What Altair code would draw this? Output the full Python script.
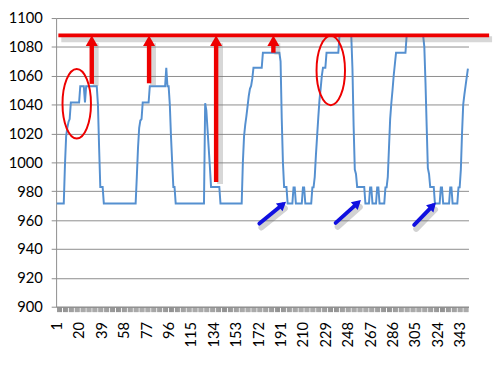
import altair as alt
import pandas as pd

# ---- blue series: (category index, value) vertices ----
pt_index = [1, 7, 8, 9, 10, 11, 12, 13, 20, 21, 24, 25, 26, 35, 36, 37, 38, 40, 41,
            68, 69, 70, 71, 72, 73, 74, 79, 80, 93, 94, 95, 96, 97, 98, 99, 100, 101, 102,
            126, 127, 128, 129, 130, 131, 132, 139, 140,
            158, 159, 160, 161, 162, 163, 164, 165, 166, 167, 168, 175, 176, 190, 191, 192, 193, 194, 196, 197,
            201, 202, 203, 204, 209, 210, 211, 212, 217, 218, 219, 220, 221, 222, 223, 224, 225, 226, 227, 229, 230,
            240, 241, 251, 252, 253, 254, 255, 256, 262, 263, 266, 267, 268, 269, 272, 273, 274, 275,
            279, 280, 281, 282, 283, 284, 285, 286, 287, 288, 289, 297, 298, 312, 313, 314, 315, 316, 317, 318,
            321, 322, 326, 327, 328, 329, 334, 335, 336, 337, 341, 342, 343, 344, 345, 346, 347, 348, 349, 350]
pt_value = [971.5, 971.5, 998, 1018, 1024, 1028, 1030, 1041.5, 1041.5, 1052.7, 1052.7, 1041.5, 1052.7, 1052.7, 1040, 1010, 983, 983, 971.5,
            971.5, 990, 1010, 1024, 1029, 1030, 1041.5, 1041.5, 1052.7, 1052.7, 1065.6, 1052.7, 1052.7, 1040, 1018, 1000, 983, 983, 971.5,
            971.5, 1041, 1036, 1023, 1010, 997, 983, 983, 971.5,
            971.5, 1000, 1018, 1026, 1032, 1039, 1046, 1051, 1053, 1058, 1065.6, 1065.6, 1076, 1076, 1070, 1030, 1000, 983, 983, 971.5,
            971.5, 982.7, 982.7, 971.5, 971.5, 982.7, 982.7, 971.5, 971.5, 982.7, 982.7, 990, 1005, 1018, 1031, 1043, 1051, 1060, 1065.6, 1065.6, 1076,
            1076, 1088, 1088, 1065, 1025, 995, 992, 983, 983, 971.5, 971.5, 982.7, 982.7, 971.5, 971.5, 982.7, 982.7, 971.5,
            971.5, 982.7, 982.7, 990, 1010, 1030, 1041, 1050, 1060, 1068, 1076, 1076, 1088, 1088, 1080, 1055, 1025, 996, 992, 983,
            983, 971.5, 971.5, 982.7, 982.7, 971.5, 971.5, 982.7, 982.7, 971.5, 971.5, 982.7, 982.7, 995, 1020, 1040, 1047, 1053, 1059, 1065]

n_categories = 350
x_labels = [1, 20, 39, 58, 77, 96, 115, 134, 153, 172, 191, 210, 229, 248, 267, 286, 305, 324, 343]
y_ticks = [900, 920, 940, 960, 980, 1000, 1020, 1040, 1060, 1080, 1100]

# ---- annotations ----
max_level = [1088]
max_from = [2.4]
max_to = [368]

red_arrow_x = [30.75, 79.4, 136.3, 184.9]
red_arrow_from = [1054.4, 1054.8, 986.4, 1076]

ellipse_x = [18, 233.6]
ellipse_y = [1040.6, 1063.7]

blue_tail_x = [173, 237.75, 304.4]
blue_tail_y = [957.6, 958.1, 956.7]
blue_tip_x = [195.5, 259.1, 323.0]
blue_tip_y = [972.9, 973.9, 972.1]
blue_angle = [50, 48, 45]

RED = "#ee0000"
BLUE_LINE = "#5590d0"
ARROW_BLUE = "#1010e0"
GRID = "#8c8c8c"
FONT = "Lato"

series = pd.DataFrame({"i": pt_index, "v": pt_value})
hline = pd.DataFrame({"i": max_from, "x2": max_to, "v": max_level})
rarrows = pd.DataFrame({"i": red_arrow_x, "v": red_arrow_from, "y2": max_level * len(red_arrow_x)})
ells = pd.DataFrame({"i": ellipse_x, "v": ellipse_y})
barrows = pd.DataFrame({"i": blue_tail_x, "v": blue_tail_y, "x2": blue_tip_x, "y2": blue_tip_y, "a": blue_angle})

xs = alt.Scale(domain=[0.5, n_categories + 0.5], nice=False, zero=False)
ys = alt.Scale(domain=[900, 1100], nice=False, zero=False)

label_list = ",".join(str(v) for v in x_labels)
x_axis = alt.Axis(values=list(range(1, n_categories + 1)), format="d",
                  labelExpr=f"indexof([{label_list}], datum.value) >= 0 ? datum.label : ''",
                  labelAngle=270, labelOverlap=False, labelFlush=False, grid=False,
                  tickSize=5, tickColor="#909090", tickWidth=1, domainColor=GRID,
                  labelFont=FONT, labelFontSize=15, labelColor="#000000", labelPadding=10,
                  title=None)
y_axis = alt.Axis(values=y_ticks, format="d", grid=True, gridColor=GRID, gridWidth=1,
                  tickSize=5, tickColor=GRID, domainColor=GRID,
                  labelFont=FONT, labelFontSize=15, labelColor="#000000", labelPadding=9,
                  title=None)


def X(f):
    return alt.X(f, scale=xs, axis=x_axis)


def Y(f):
    return alt.Y(f, scale=ys, axis=y_axis)


line = alt.Chart(series).mark_line(color=BLUE_LINE, strokeWidth=2, strokeJoin="miter").encode(
    x=X("i:Q"), y=Y("v:Q"))

hline_shadow = alt.Chart(hline).mark_rule(color="#7a7a7a", strokeWidth=6, opacity=0.3,
                                          xOffset=3, x2Offset=3, yOffset=4).encode(
    x=X("i:Q"), x2="x2", y=Y("v:Q"))
hline_main = alt.Chart(hline).mark_rule(color=RED, strokeWidth=4).encode(
    x=X("i:Q"), x2="x2", y=Y("v:Q"))

rarrow_shadow = alt.Chart(rarrows).mark_rule(color="#7a7a7a", strokeWidth=6, opacity=0.3,
                                             xOffset=4, yOffset=2, y2Offset=8).encode(
    x=X("i:Q"), y=Y("v:Q"), y2="y2")
rarrow_shaft = alt.Chart(rarrows).mark_rule(color=RED, strokeWidth=4.5, y2Offset=6).encode(
    x=X("i:Q"), y=Y("v:Q"), y2="y2")
rarrow_head = alt.Chart(rarrows).mark_point(shape="triangle-up", filled=True, color=RED,
                                            size=150, opacity=1, yOffset=5.5).encode(
    x=X("i:Q"), y=Y("y2:Q"))

k = 0.5523
rx = 0.41
ell_path = (f"M 0 -1 C {k*rx:.4f} -1 {rx} -{k} {rx} 0 "
            f"C {rx} {k} {k*rx:.4f} 1 0 1 "
            f"C -{k*rx:.4f} 1 -{rx} {k} -{rx} 0 "
            f"C -{rx} -{k} -{k*rx:.4f} -1 0 -1 Z")
ellipses = alt.Chart(ells).mark_point(shape=ell_path, filled=False, color=RED, strokeWidth=2,
                                      size=5000, opacity=1).encode(
    x=X("i:Q"), y=Y("v:Q"))

barrow_shadow = alt.Chart(barrows).mark_rule(color="#6a6a6a", strokeWidth=6, opacity=0.3, strokeCap="round",
                                             xOffset=2, yOffset=4, x2Offset=-1, y2Offset=7).encode(
    x=X("i:Q"), y=Y("v:Q"), x2="x2", y2="y2")
barrow_shaft = alt.Chart(barrows).mark_rule(color=ARROW_BLUE, strokeWidth=4, strokeCap="round",
                                            x2Offset=-3.3, y2Offset=3.1).encode(
    x=X("i:Q"), y=Y("v:Q"), x2="x2", y2="y2")
barrow_head = alt.Chart(barrows).mark_point(shape="triangle-up", filled=True, color=ARROW_BLUE,
                                            size=110, opacity=1, xOffset=-3.3, yOffset=3.1).encode(
    x=X("x2:Q"), y=Y("y2:Q"), angle=alt.Angle("a:Q", scale=None))

chart = alt.layer(
    line, hline_shadow, rarrow_shadow, hline_main, rarrow_shaft, rarrow_head, ellipses,
    barrow_shadow, barrow_shaft, barrow_head,
).properties(
    width=420, height=294,
    autosize=alt.AutoSizeParams(type="none"),
    padding={"left": 49, "top": 7, "right": 28, "bottom": 50},
    background="white",
).configure_view(strokeWidth=0)

chart.save("out.html", embed_options={"renderer": "svg", "actions": False})
